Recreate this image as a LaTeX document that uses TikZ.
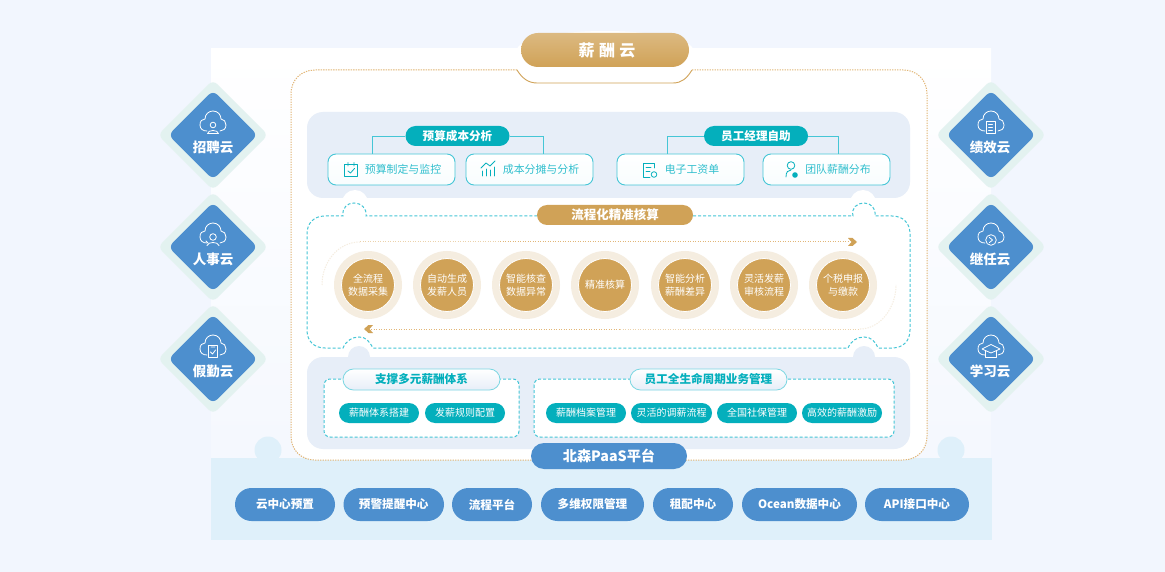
\documentclass[tikz,border=0pt]{standalone}
\usepackage{fontspec}
\setmainfont{Noto Sans CJK SC}
\usetikzlibrary{shapes.misc}
\definecolor{pagebg}{HTML}{F2F6FE}
\definecolor{teal1}{HTML}{04AFBC}
\definecolor{teal2}{HTML}{45C6D6}
\definecolor{gold1}{HTML}{D0A257}
\definecolor{goldlt}{HTML}{F5EDE0}
\definecolor{gold2}{HTML}{E2B676}
\definecolor{blue1}{HTML}{4D8FCE}
\definecolor{grey1}{HTML}{E7EEF8}
\definecolor{band}{HTML}{DFF0FA}
\definecolor{mint}{HTML}{E3F2F0}
\newcommand{\fs}[1]{\fontsize{#1}{#1}\selectfont}
\tikzset{
 x=1pt,y=-1pt,
 iconw/.style={draw=white,line width=.8pt,line cap=round,line join=round},
 icont/.style={draw=teal1,line width=.8pt,line cap=round,line join=round},
 dia/.style={shape=rectangle,rounded corners=6pt,rotate=45,inner sep=0pt,minimum size=#1},
 dialabel/.style={text=white,font=\bfseries\fs{13.5},inner sep=0pt},
 pill/.style={shape=rounded rectangle,inner sep=0pt,minimum width=#1},
 tealhead/.style={pill=#1,minimum height=20pt,fill=teal1,text=white,font=\bfseries\fs{11.6}},
 boxitem/.style={shape=rectangle,rounded corners=8pt,draw=teal2,line width=.9pt,top color=white,bottom color=white!85!teal2!25,minimum width=127pt,minimum height=31pt,inner sep=0pt},
 boxtext/.style={text=teal2!70!teal1,font=\fs{10.9},inner sep=0pt},
 ringo/.style={shape=circle,fill=goldlt,minimum size=68pt,inner sep=0pt},
 ringi/.style={shape=circle,fill=gold1,draw=white,line width=.8pt,minimum size=53pt,inner sep=0pt,text=white,font=\fs{10},align=center},
 subhead/.style={pill=#1,minimum height=21pt,draw=teal2!70,line width=.8pt,top color=white,bottom color=grey1,text=teal1,font=\bfseries\fs{11.6}},
 chip/.style={pill=#1,minimum height=20pt,fill=teal1,text=white,font=\fs{10}},
 basepill/.style={pill=#1,minimum height=33pt,fill=blue1,text=white,font=\bfseries\fs{11.6}},
 dashteal/.style={draw=teal2,line width=1pt,dash pattern=on 3pt off 2pt},
 dotgold/.style={draw=gold2,line width=1pt,dash pattern=on 1.3pt off 1.2pt},
 conn/.style={draw=teal2,line width=.9pt},
 cloudshape/.pic={
  \draw[iconw] (-6,9) .. controls (-10,9) and (-13,7) .. (-13,3)
    .. controls (-13,-1) and (-11,-3) .. (-8,-3)
    .. controls (-8,-8) and (-4,-11) .. (0,-11)
    .. controls (5,-11) and (8,-7) .. (8,-3)
    .. controls (11,-3) and (13,0) .. (13,3)
    .. controls (13,7) and (10,9) .. (7,9);
 },
}
\begin{document}
\begin{tikzpicture}
\useasboundingbox (0,0) rectangle (1165,572);
\fill[pagebg] (0,0) rectangle (1165,572);
% page panel
\shade[top color=white,bottom color=pagebg!80!white] (211,49) rectangle (991,460);
% bottom band
\fill[band] (268,450) circle[radius=13.5];
\fill[band] (951,450) circle[radius=13.5];
\fill[band] (211,458) rectangle (992,540);
% outer frame fill
\fill[white,rounded corners=24pt] (291,70) rectangle (927,460);
\fill[white] (517,60) rectangle (692,83);
% outer frame line
\draw[dotgold] (517,70) -- (315,70) .. controls (301,70) and (291,80) .. (291,94) -- (291,436)
  .. controls (291,450) and (301,460) .. (315,460) -- (532,460);
\draw[dotgold] (692,70) -- (903,70) .. controls (917,70) and (927,80) .. (927,94) -- (927,436)
  .. controls (927,450) and (917,460) .. (903,460) -- (686,460);
\draw[draw=gold1,line width=.9pt] (517,70) .. controls (522,78) and (528,83) .. (537,83) -- (673,83) .. controls (682,83) and (687,78) .. (692,70);
% grey panels
\fill[grey1,rounded corners=16pt] (307,112) rectangle (910,198);
\fill[white] (355,203) circle[radius=13];
\fill[white] (863,203) circle[radius=13];
\fill[grey1] (359,357) circle[radius=11];
\fill[grey1] (864,357) circle[radius=11];
\fill[grey1,rounded corners=16pt] (307,357) rectangle (910,449);
% title
\fill[white] (605,50) ellipse[x radius=88,y radius=19];
\node[pill=168pt,minimum height=34pt,top color=gold1!75!white,bottom color=gold1,text=white,font=\bfseries\fs{16}] (title) at (605,50) {\hspace{4pt}薪\hspace{4.5pt}酬\hspace{4.5pt}云};
% top heads and boxes
\node[boxitem] (b1) at (391.5,169.5) {};
\node[boxitem] (b2) at (529.5,169.5) {};
\node[boxitem] (b3) at (680.5,169.5) {};
\node[boxitem] (b4) at (826.5,169.5) {};
\coordinate (c1) at (372,154);
\coordinate (c2) at (543,154);
\coordinate (c3) at (667,154);
\coordinate (c4) at (838,154);
\node[tealhead=104pt] (h1) at (457.5,136) {预算成本分析};
\node[tealhead=104pt] (h2) at (756,136) {员工经理自助};
\draw[conn] (h1.west) -| (c1);
\draw[conn] (h1.east) -| (c2);
\draw[conn] (h2.west) -| (c3);
\draw[conn] (h2.east) -| (c4);
\node[boxtext] (t1) at (403,169.5) {预算制定与监控};
\node[boxtext] (t2) at (541,169.5) {成本分摊与分析};
\node[boxtext] (t3) at (692,169.5) {电子工资单};
\node[boxtext] (t4) at (838,169.5) {团队薪酬分布};
% box icons
\draw[icont] (344.5,164.5) rectangle (357.5,176);
\draw[icont] (348,162.5) -- (348,166) (354,162.5) -- (354,166) (348,171) -- (350.5,173) -- (354.5,168.5);
\draw[icont] (482,176) -- (482,171) (486,176) -- (486,169) (490,176) -- (490,170) (494,176) -- (494,167);
\draw[icont] (481,168) -- (486,163) -- (490,166) -- (495,161);
\draw[icont] (654,168) -- (654,163) -- (643,163) -- (643,177) -- (650,177);
\draw[icont] (646,167) -- (651,167) (646,171) -- (650,171);
\draw[icont] (654,174.5) circle[radius=2.8];
\draw[icont] (791,165.5) circle[radius=3.8];
\draw[icont] (786,177) .. controls (786,172) and (788,170) .. (791,170);
\fill[teal1] (795,175) circle[radius=2.8];
% flow frame
\draw[dashteal] (693,216) -- (853,216) .. controls (851,208) and (857,203) .. (864,203) .. controls (871,203) and (876,208) .. (875,216)
 -- (892,216) .. controls (903,216) and (910,223) .. (910,234) -- (910,330) .. controls (910,341) and (903,348) .. (892,348)
 -- (878,348) .. controls (875,341) and (871,337) .. (864,337) .. controls (857,337) and (851,341) .. (848,348)
 -- (373,348) .. controls (369,341) and (366,337) .. (359,337) .. controls (352,337) and (346,341) .. (343,348)
 -- (325,348) .. controls (314,348) and (307,341) .. (307,330) -- (307,234) .. controls (307,223) and (314,216) .. (325,216)
 -- (343,216) .. controls (342,208) and (347,203) .. (354,203) .. controls (361,203) and (367,208) .. (366,216) -- (537,216);
\node[pill=156pt,minimum height=20pt,fill=gold1,text=white,font=\bfseries\fs{12.5}] (flow) at (615,215) {流程化精准核算};
% flow arrows
\draw[goldlt,line width=1pt,dash pattern=on 1.3pt off 1.2pt] (322,285) .. controls (322,262) and (338,242) .. (360,242);
\draw[goldlt!50!gold2,line width=1pt,dash pattern=on 1.3pt off 1.2pt] (360,242) -- (500,242);
\draw[dotgold] (500,242) -- (849,242);
\fill[gold1] (848,238) -- (852.5,238) -- (857,242) -- (852.5,246) -- (848,246) -- (851.5,242) -- cycle;
\draw[dotgold] (371,329) -- (620,329);
\draw[goldlt!50!gold2,line width=1pt,dash pattern=on 1.3pt off 1.2pt] (620,329) -- (860,329);
\draw[goldlt,line width=1pt,dash pattern=on 1.3pt off 1.2pt] (860,329) .. controls (880,329) and (896,308) .. (896,285);
\fill[gold1] (373,325) -- (368.5,325) -- (364,329) -- (368.5,333) -- (373,333) -- (369.5,329) -- cycle;
% steps
\node[ringo] (r1) at (368,285) {};
\node[ringo] (r2) at (447,285) {};
\node[ringo] (r3) at (526,285) {};
\node[ringo] (r4) at (605,285) {};
\node[ringo] (r5) at (685,285) {};
\node[ringo] (r6) at (764,285) {};
\node[ringo] (r7) at (843,285) {};
\node[ringi] (s1) at (r1) {全流程\\[3pt]数据采集};
\node[ringi] (s2) at (r2) {自动生成\\[3pt]发薪人员};
\node[ringi] (s3) at (r3) {智能核查\\[3pt]数据异常};
\node[ringi] (s4) at (r4) {精准核算};
\node[ringi] (s5) at (r5) {智能分析\\[3pt]薪酬差异};
\node[ringi] (s6) at (r6) {灵活发薪\\[3pt]审核流程};
\node[ringi] (s7) at (r7) {个税申报\\[3pt]与缴款};
% lower boxes
\draw[dashteal,fill=white,rounded corners=6pt] (324,379) rectangle (519,437);
\draw[dashteal,fill=white,rounded corners=6pt] (534,379) rectangle (894,437);
\node[subhead=157pt] (sh1) at (421.5,379.5) {支撑多元薪酬体系};
\node[subhead=157pt] (sh2) at (708.5,379.5) {员工全生命周期业务管理};
\node[chip=80pt] (k1) at (379,413) {薪酬体系搭建};
\node[chip=80pt] (k2) at (465,413) {发薪规则配置};
\node[chip=80pt] (k3) at (586,413) {薪酬档案管理};
\node[chip=81pt] (k4) at (671.5,413) {灵活的调薪流程};
\node[chip=80pt] (k5) at (757,413) {全国社保管理};
\node[chip=80pt] (k6) at (842,413) {高效的薪酬激励};
% paas
\node[pill=156pt,minimum height=26pt,fill=blue1,text=white,font=\bfseries\fs{14.2}] (paas) at (609,456) {北森PaaS平台};
\node[basepill=100pt] (p1) at (285,504.5) {云中心预置};
\node[basepill=100.5pt] (p2) at (393.75,504.5) {预警提醒中心};
\node[basepill=80pt] (p3) at (492,504.5) {流程平台};
\node[basepill=103pt] (p4) at (592.5,504.5) {多维权限管理};
\node[basepill=80pt] (p5) at (693,504.5) {租配中心};
\node[basepill=115pt] (p6) at (799.5,504.5) {Ocean数据中心};
\node[basepill=104pt] (p7) at (917,504.5) {API接口中心};
% diamonds
\foreach \nm/\xx/\yy in {a/213/135,b/213/247,c/213/359,d/991/135,e/991/247,f/991/359}{
 \node[dia=78pt,fill=mint] (o\nm) at (\xx,\yy) {};
 \node[dia=63pt,fill=blue1] (i\nm) at (\xx,\yy) {};
 \pic at (\xx,\yy-13) {cloudshape};
}
\node[dialabel] (la) at (213,147) {招聘云};
\node[dialabel] (lb) at (213,259) {人事云};
\node[dialabel] (lc) at (213,371) {假勤云};
\node[dialabel] (ld) at (990,147) {绩效云};
\node[dialabel] (le) at (990,259) {继任云};
\node[dialabel] (lf) at (990,371) {学习云};
% inner icons
\draw[iconw] (213,125) circle[radius=2.8];
\draw[iconw] (207.5,133.5) .. controls (208,129.5) and (218,129.5) .. (218.5,133.5) -- cycle;
\draw[iconw] (213,237) circle[radius=3.3];
\draw[iconw] (207,245.5) .. controls (208,241.5) and (218,241.5) .. (219,245.5);
\draw[iconw] (208,243) -- (206,241);
\draw[iconw] (208.5,345) rectangle (217.5,357);
\draw[iconw] (211,347) -- (215,347) (210.5,352) -- (212.5,354) -- (215.5,350);
\draw[iconw] (986,121.5) rectangle (995,133.5);
\draw[iconw] (988.5,124.5) -- (992.5,124.5) (988.5,127.5) -- (992.5,127.5) (988.5,130.5) -- (992.5,130.5);
\draw[iconw] (991,240) circle[radius=5.3];
\draw[iconw] (989.5,237.5) -- (992.5,240) -- (989.5,242.5);
\draw[iconw] (982,349) -- (991,344.5) -- (1000,349) -- (991,353) -- cycle;
\draw[iconw] (985.5,351) -- (985.5,357) -- (996.5,357) -- (996.5,351);
\end{tikzpicture}
\end{document}
